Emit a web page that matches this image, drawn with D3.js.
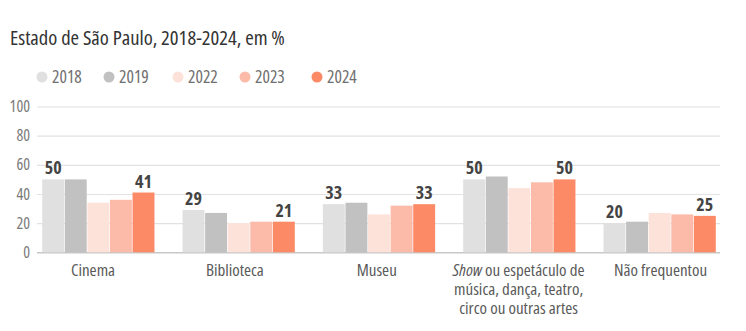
<!DOCTYPE html>
<html>
<head>
<meta charset="utf-8">
<script src="https://cdn.jsdelivr.net/npm/d3@7"></script>
<style>
  html, body { margin: 0; padding: 0; background: #fff; }
  svg { display: block; font-family: "Open Sans", sans-serif; font-stretch: 75%; }
</style>
</head>
<body>
<svg id="chart" width="746" height="331"></svg>
<script>
// Frequência a atividades culturais, Estado de São Paulo
const categories = ["Cinema", "Biblioteca", "Museu", "Show", "Não frequentou"];
const years = ["2018", "2019", "2022", "2023", "2024"];
const v2018 = [50, 29, 33, 50, 20];
const v2019 = [50, 27, 34, 52, 21];
const v2022 = [34, 20, 26, 44, 27];
const v2023 = [36, 21, 32, 48, 26];
const v2024 = [41, 21, 33, 50, 25];
const yTicks = [0, 20, 40, 60, 80, 100];
const colors = ["#e0e0e0", "#c1c1c1", "#fde2da", "#fcbba9", "#fd8a67"];
// value labels shown only for first and last year
const labeledYears = ["2018", "2024"];

const series = [v2018, v2019, v2022, v2023, v2024];
const rows = categories.map((c, i) => ({
  cat: c,
  vals: years.map((y, j) => ({ year: y, value: series[j][i], color: colors[j] }))
}));

const svg = d3.select("#chart");

// title
svg.append("text")
  .attr("x", 10).attr("y", 45)
  .attr("font-size", 20.6).attr("fill", "#333")
  .text("Estado de São Paulo, 2018-2024, em %");

// legend
const legend = svg.append("g");
const legendX = [42, 109, 178, 245, 317];
years.forEach((y, i) => {
  legend.append("circle").attr("cx", legendX[i]).attr("cy", 77).attr("r", 5.5).attr("fill", colors[i]);
  legend.append("text").attr("x", legendX[i] + 10).attr("y", 83)
    .attr("font-size", 17.5).attr("fill", "#6f6f6f").text(y);
});

const y = d3.scaleLinear().domain([0, 100]).range([252.3, 106.5]);
const x0 = d3.scaleBand().domain(categories).range([38, 720]).paddingInner(0.2).paddingOuter(0.03);
const x1 = d3.scaleBand().domain(years).range([0, x0.bandwidth()]).paddingInner(0.03);
// category captions sit on their own evenly spaced grid
const xLabel = d3.scalePoint().domain(categories).range([93, 660.5]);

// grid
const grid = svg.append("g")
  .call(d3.axisLeft(y).tickValues(yTicks).tickSize(-683).tickFormat(d3.format("d")))
  .attr("transform", "translate(37,0)")
  .attr("font-family", null);
grid.select(".domain").remove();
grid.selectAll(".tick line").attr("stroke", d => d === 0 ? "#c8c8c8" : "#e2e2e2").attr("stroke-width", d => d === 0 ? 1.5 : 1.2);
grid.selectAll(".tick text").attr("x", -7).attr("font-size", 16).attr("fill", "#7a7a7a");

// bars
const groups = svg.append("g").selectAll("g").data(rows).join("g")
  .attr("transform", d => `translate(${x0(d.cat)},0)`);
groups.selectAll("rect").data(d => d.vals).join("rect")
  .attr("x", d => x1(d.year))
  .attr("width", x1.bandwidth())
  .attr("y", d => y(d.value))
  .attr("height", d => y(0) - y(d.value))
  .attr("fill", d => d.color);

groups.selectAll("text.val").data(d => d.vals.filter(v => labeledYears.includes(v.year))).join("text")
  .attr("class", "val")
  .attr("x", d => x1(d.year) + x1.bandwidth() / 2)
  .attr("y", d => y(d.value) - 5)
  .attr("text-anchor", "middle")
  .attr("font-size", 18).attr("font-weight", "bold").attr("fill", "#444")
  .text(d => d.value);

// category labels
const labelG = svg.append("g");
categories.forEach(c => {
  const cx = xLabel(c);
  const lines = c === "Show"
    ? [null, "música, dança, teatro,", "circo ou outras artes"]
    : [c];
  lines.forEach((ln, k) => {
    const t = labelG.append("text").attr("x", cx).attr("y", 275.5 + k * 19)
      .attr("text-anchor", "middle").attr("font-size", 17).attr("fill", "#5a5a5a");
    if (ln === null) {
      t.append("tspan").attr("font-style", "italic").text("Show");
      t.append("tspan").text(" ou espetáculo de");
    } else {
      t.text(ln);
    }
  });
});
</script>
</body>
</html>
